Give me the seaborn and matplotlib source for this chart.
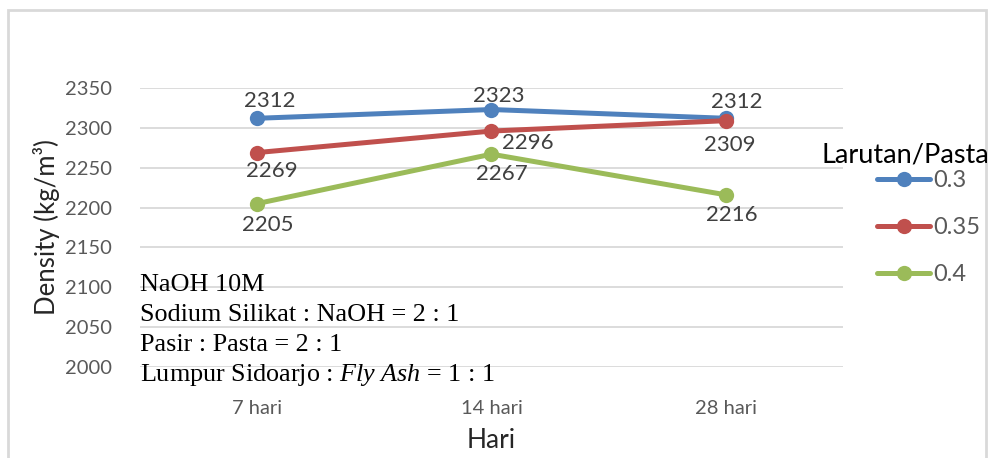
import pandas as pd
import matplotlib.pyplot as plt
import seaborn as sns
from matplotlib.patches import Rectangle

# data
days = ['7 hari', '14 hari', '28 hari']
ratios = ['0.3', '0.35', '0.4']
dens_03 = [2312, 2323, 2312]
dens_035 = [2269, 2296, 2309]
dens_04 = [2205, 2267, 2216]
notes = ['NaOH 10M', 'Sodium Silikat : NaOH = 2 : 1', 'Pasir : Pasta = 2 : 1',
         r'Lumpur Sidoarjo : $\mathit{Fly\ Ash}$ = 1 : 1']

df = pd.DataFrame({
    'Hari': days * 3,
    'Larutan/Pasta': [r for r in ratios for _ in days],
    'Density': dens_03 + dens_035 + dens_04,
})
df['pos'] = df['Hari'].map({d: i for i, d in enumerate(days)})

colors = ['#4F81BD', '#C0504D', '#9BBB59']
sns.set_style('white')
plt.rcParams['font.family'] = ['Lato', 'DejaVu Sans']
plt.rcParams['mathtext.fontset'] = 'custom'
plt.rcParams['mathtext.it'] = 'Liberation Serif:italic'
plt.rcParams['mathtext.rm'] = 'Liberation Serif'

W, H = 992, 458
fig = plt.figure(figsize=(W / 100, H / 100), dpi=100)
ax = fig.add_axes([140 / W, 1 - 367 / H, 703 / W, 279 / H])

# chart frame
fig.patches.append(Rectangle((8 / W, -0.05), 978 / W, 1.05 - 10 / H,
                             transform=fig.transFigure, fill=False,
                             edgecolor='#D9D9D9', linewidth=2))

sns.lineplot(data=df, x='pos', y='Density', hue='Larutan/Pasta',
             palette=colors, marker='o', markersize=11, markeredgewidth=0,
             linewidth=3.6, ax=ax, legend=True)

ax.set_xlim(-0.5, 2.5)
ax.set_ylim(2000, 2350)
ax.set_yticks(range(2000, 2351, 50))
ax.set_xticks(range(len(days)))
ax.set_xticklabels(days)
ax.yaxis.grid(True, color='#D9D9D9', linewidth=1.3)
ax.set_axisbelow(True)
for s in ax.spines.values():
    s.set_visible(False)
ax.tick_params(axis='both', length=0, labelsize=14.5, colors='#595959')
ax.tick_params(axis='x', pad=24)
ax.tick_params(axis='y', pad=20)
ax.set_xlabel('Hari', fontsize=19, labelpad=8)
ax.set_ylabel('Density (kg/m³)', fontsize=18.5, labelpad=4)

# data labels (offsets in pixels from each point)
offsets = {
    '0.3': [(13, 17), (7, 14), (11, 16)],
    '0.35': [(15, -18), (36, -12), (4, -24)],
    '0.4': [(11, -21), (10, -20), (6, -20)],
}
for r, vals in zip(ratios, [dens_03, dens_035, dens_04]):
    for i, v in enumerate(vals):
        dx, dy = offsets[r][i]
        ax.annotate(str(v), (i, v), xytext=(dx, dy), textcoords='offset pixels',
                    va='center', ha='center', fontsize=16, color='#404040')

# notes box
for k, t in enumerate(notes):
    fig.text(140 / W, 1 - (285 + k * 30) / H, t, fontsize=18.8,
             family='Liberation Serif', va='center', color='black')

# legend: title drawn separately so the rows can sit close under it
fig.text(822 / W, 1 - 155 / H, 'Larutan/Pasta', fontsize=19.5,
         va='center', ha='left', color='black')
leg = ax.legend(loc='upper left', bbox_to_anchor=(877 / W, 1 - 170 / H),
                bbox_transform=fig.transFigure, frameon=False, borderpad=0,
                borderaxespad=0, fontsize=17, handlelength=2.25,
                labelspacing=1.1, handletextpad=0.15)
for t in leg.get_texts():
    t.set_color('#595959')

fig.savefig('out.png', dpi=100)
